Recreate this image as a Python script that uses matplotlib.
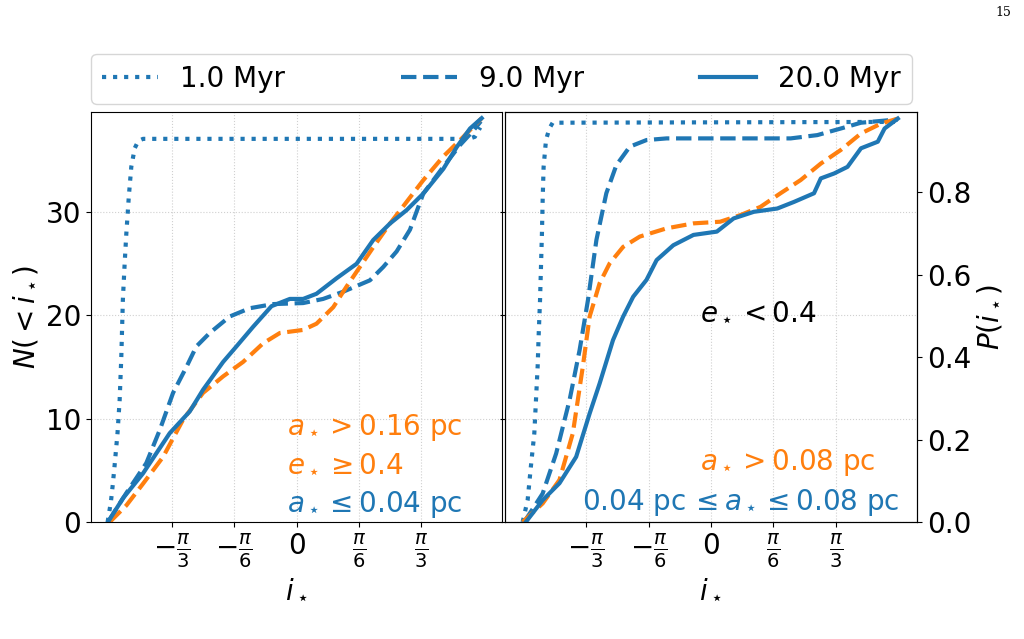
import numpy as np
import matplotlib
matplotlib.use("Agg")
import matplotlib.pyplot as plt

BLUE = "#1f77b4"
ORANGE = "#ff7f0e"

# ---------------- data (left panel: N(<i)) ----------------
L_dot_x = [-1.588, -1.56, -1.545, -1.53, -1.505, -1.487, -1.473, -1.46, -1.445, -1.431,
           -1.41, -1.389, -1.36, -1.33, -1.29, 1.45, 1.50, 1.545]
L_dot_N = [0, 2.0, 3.6, 5.4, 8.6, 11.8, 16.0, 21.5, 25.0, 27.9,
           31.5, 34.4, 36.2, 36.9, 37.1, 37.1, 37.3, 38.2]

L_dash_x = [-1.585, -1.431, -1.263, -1.150, -1.038, -0.926, -0.842, -0.730, -0.561, -0.393,
            -0.196, 0.056, 0.224, 0.393, 0.617, 0.730, 0.842, 0.954, 1.024, 1.066, 1.235,
            1.375, 1.487, 1.55]
L_dash_N = [0, 2.8, 5.7, 8.9, 12.5, 15.0, 17.0, 18.3, 19.9, 20.7,
            21.1, 21.2, 21.6, 22.3, 23.4, 24.7, 26.2, 28.3, 30.5, 31.8, 34.4,
            36.5, 37.9, 38.8]

L_sol_x = [-1.585, -1.459, -1.291, -1.066, -0.898, -0.786, -0.617, -0.505, -0.365, -0.210,
           -0.056, 0.056, 0.168, 0.337, 0.505, 0.645, 0.786, 0.926, 1.066, 1.235,
           1.347, 1.459, 1.557]
L_sol_N = [0, 2.3, 4.7, 8.6, 10.7, 12.8, 15.5, 17.0, 18.9, 20.9,
           21.6, 21.6, 22.1, 23.6, 25.0, 27.3, 28.9, 30.2, 31.8, 34.2,
           36.3, 38.1, 39.1]

L_or_x = [-1.57, -1.431, -1.291, -1.122, -0.954, -0.786, -0.617, -0.449, -0.281, -0.140,
          0.056, 0.168, 0.309, 0.421, 0.533, 0.645, 0.786, 0.926, 1.066, 1.235, 1.403, 1.557]
L_or_N = [0, 1.6, 3.7, 6.3, 9.9, 12.5, 14.1, 15.5, 17.3, 18.3,
          18.6, 19.2, 20.8, 22.8, 24.7, 26.6, 28.9, 31.0, 33.1, 35.4, 37.3, 39.1]

# ---------------- data (right panel: P(i)) ----------------
R_dot_x = [-1.580, -1.538, -1.511, -1.482, -1.468, -1.454, -1.445, -1.434, -1.426, -1.418,
           -1.412, -1.404, -1.384, -1.356, -1.328, 1.567]
R_dot_P = [0, 0.053, 0.134, 0.215, 0.296, 0.377, 0.457, 0.538, 0.619, 0.700,
           0.781, 0.861, 0.926, 0.954, 0.968, 0.970]

R_dash_x = [-1.567, -1.412, -1.299, -1.186, -1.102, -1.032, -0.961, -0.878, -0.794, -0.681,
            -0.541, -0.372, 0.190, 0.668, 0.892, 1.089, 1.258, 1.567]
R_dash_P = [0, 0.069, 0.166, 0.296, 0.417, 0.538, 0.684, 0.797, 0.865, 0.910,
            0.926, 0.930, 0.930, 0.930, 0.938, 0.954, 0.968, 0.976]

R_or_x = [-1.580, -1.412, -1.271, -1.159, -1.075, -1.018, -0.934, -0.850, -0.737, -0.597,
          -0.372, -0.147, 0.077, 0.246, 0.415, 0.583, 0.752, 0.921, 1.089, 1.258, 1.427, 1.567]
R_or_P = [0, 0.045, 0.102, 0.215, 0.377, 0.498, 0.579, 0.627, 0.667, 0.692,
          0.712, 0.724, 0.728, 0.744, 0.764, 0.797, 0.829, 0.869, 0.902, 0.942, 0.966, 0.978]

R_sol_x = [-1.553, -1.412, -1.271, -1.131, -1.018, -0.934, -0.822, -0.737, -0.653, -0.541,
           -0.456, -0.316, -0.147, 0.049, 0.190, 0.359, 0.556, 0.696, 0.864, 0.921,
           1.033, 1.145, 1.258, 1.399, 1.456, 1.567]
R_sol_P = [0, 0.053, 0.094, 0.158, 0.263, 0.336, 0.441, 0.498, 0.546, 0.587,
           0.635, 0.671, 0.696, 0.704, 0.736, 0.752, 0.760, 0.776, 0.797, 0.833,
           0.845, 0.861, 0.906, 0.922, 0.954, 0.978]

legend_labels = ["1.0 Myr", "9.0 Myr", "20.0 Myr"]
xtick_vals = [-np.pi / 3, -np.pi / 6, 0, np.pi / 6, np.pi / 3]
xtick_labels = [r"$-\frac{\pi}{3}$", r"$-\frac{\pi}{6}$", "0", r"$\frac{\pi}{6}$", r"$\frac{\pi}{3}$"]

FS = 20
LW = 3

fig = plt.figure(figsize=(10.24, 6.39), dpi=100)
axL = fig.add_axes([91 / 1024, 1 - 522 / 639, 411 / 1024, 410 / 639])
axR = fig.add_axes([505 / 1024, 1 - 522 / 639, 412 / 1024, 410 / 639], sharey=axL)
twin = axR.twinx()

h1, = axL.plot(L_dot_x, L_dot_N, ":", color=BLUE, lw=LW)
h2, = axL.plot(L_dash_x, L_dash_N, "--", color=BLUE, lw=LW)
axL.plot(L_or_x, L_or_N, "--", color=ORANGE, lw=LW)
h3, = axL.plot(L_sol_x, L_sol_N, "-", color=BLUE, lw=LW)

twin.plot(R_dot_x, R_dot_P, ":", color=BLUE, lw=LW)
twin.plot(R_dash_x, R_dash_P, "--", color=BLUE, lw=LW)
twin.plot(R_or_x, R_or_P, "--", color=ORANGE, lw=LW)
twin.plot(R_sol_x, R_sol_P, "-", color=BLUE, lw=LW)

xl = np.pi / 2 * 1.1
for ax in (axL, axR):
    ax.set_xlim(-xl, xl)
    ax.set_xticks(xtick_vals)
    ax.set_xticklabels(xtick_labels)
    ax.tick_params(labelsize=FS)
    ax.grid(True, linestyle=":", color="#d0d0d0", linewidth=0.8)
    ax.set_xlabel(r"$i_\star$", fontsize=FS)
axL.set_ylim(0, 39.7)
axL.set_yticks([0, 10, 20, 30])
axR.tick_params(labelleft=False)
twin.set_ylim(0, 0.994)
twin.set_yticks([0.0, 0.2, 0.4, 0.6, 0.8])
twin.tick_params(labelsize=FS)
twin.set_ylabel(r"$P(i_\star)$", fontsize=FS)
axL.set_ylabel(r"$N(<i_\star)$", fontsize=FS)

# annotations
axL.text(0.477, 0.212, r"$a_\star > 0.16$ pc", color=ORANGE, fontsize=FS,
         transform=axL.transAxes, va="baseline")
axL.text(0.477, 0.122, r"$e_\star \geq 0.4$", color=ORANGE, fontsize=FS,
         transform=axL.transAxes, va="baseline")
axL.text(0.477, 0.024, r"$a_\star \leq 0.04$ pc", color=BLUE, fontsize=FS,
         transform=axL.transAxes, va="baseline")
axR.text(0.473, 0.493, r"$e_\star < 0.4$", color="black", fontsize=FS,
         transform=axR.transAxes, va="baseline")
axR.text(0.473, 0.127, r"$a_\star > 0.08$ pc", color=ORANGE, fontsize=FS,
         transform=axR.transAxes, va="baseline")
axR.text(0.187, 0.029, r"0.04 pc$\,\leq a_\star \leq 0.08$ pc", color=BLUE, fontsize=FS,
         transform=axR.transAxes, va="baseline")

fig.legend([h1, h2, h3], legend_labels, loc="lower left", ncol=3, mode="expand",
           bbox_to_anchor=(91 / 1024, 1 - 104 / 639, 821 / 1024, 53 / 639),
           fontsize=FS, borderaxespad=0.0)

fig.text(1003 / 1024, 1 - 12 / 639, "15", fontsize=9, family="DejaVu Serif",
         ha="center", va="center")

fig.savefig("out.png", dpi=100)
